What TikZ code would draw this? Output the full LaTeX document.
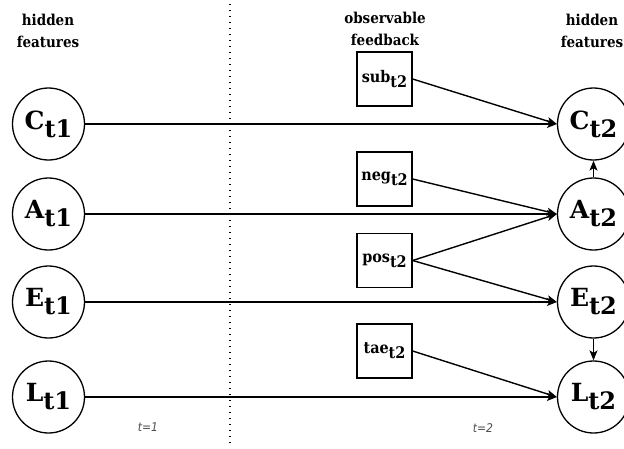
\documentclass[tikz,border=0pt]{standalone}
\usepackage{fontspec}
\setmainfont{DejaVu Serif}
\setsansfont{DejaVu Sans}
\newfontfamily\condserif{DejaVu Serif Condensed}
\newfontfamily\condsans{DejaVu Sans Condensed}
\usetikzlibrary{arrows.meta}
\newcommand\cirlab[2]{{\bfseries\fontsize{25}{25}\selectfont #1\raisebox{-8pt}{\fontsize{24}{24}\selectfont #2}}}
\newcommand\boxlab[2]{{\condserif\bfseries\fontsize{16}{16}\selectfont #1\raisebox{-5pt}{\fontsize{16}{16}\selectfont #2}}}
\begin{document}
\begin{tikzpicture}[x=1pt,y=-1pt,
  feat/.style={circle,draw,line width=1.3pt,minimum size=72pt,inner sep=0pt},
  obs/.style={rectangle,draw,line width=1.3pt,minimum width=55pt,minimum height=54pt,inner sep=0pt},
  arr/.style={line width=1.4pt,-{Stealth[length=10pt,width=8pt,inset=2.5pt]}},
  hdr/.style={font=\condserif\bfseries\fontsize{15}{22}\selectfont,align=center},
  tlab/.style={font=\condsans\itshape\fontsize{12}{14}\selectfont,text=black!70},
  dotline/.style={line width=1.4pt,dash pattern=on 1.4pt off 4.6pt}]
\useasboundingbox (0,0) rectangle (624,448);
% headers
\node[hdr] (h1) at (48,31) {hidden\\features};
\node[hdr] (h2) at (385,29) {observable\\feedback};
\node[hdr] (h3) at (592,31) {hidden\\features};
% divider
\coordinate (d1) at (230,4);
\coordinate (d2) at (230,446);
\draw[dotline] (d1) -- (d2);
% time t1
\node[feat] (C1) at (48.5,124) {\cirlab{C}{t1}};
\node[feat] (A1) at (48.5,214) {\cirlab{A}{t1}};
\node[feat] (E1) at (48.5,302) {\cirlab{E}{t1}};
\node[feat] (L1) at (48.5,397) {\cirlab{L}{t1}};
% time t2
\node[feat] (C2) at (593.5,124) {\cirlab{C}{t2}};
\node[feat] (A2) at (593.5,214) {\cirlab{A}{t2}};
\node[feat] (E2) at (593.5,302) {\cirlab{E}{t2}};
\node[feat] (L2) at (593.5,397) {\cirlab{L}{t2}};
% observable
\node[obs] (sub) at (384.5,79) {\boxlab{sub}{t2}};
\node[obs] (neg) at (384.5,179) {\boxlab{neg}{t2}};
\node[obs] (pos) at (384.5,260.5) {\boxlab{pos}{t2}};
\node[obs] (tae) at (384.5,351) {\boxlab{tae}{t2}};
% labels
\node[tlab] (t1) at (148,427) {t=1};
\node[tlab] (t2) at (483,428) {t=2};
% arrows
\draw[arr] (C1) -- (C2);
\draw[arr] (A1) -- (A2);
\draw[arr] (E1) -- (E2);
\draw[arr] (L1) -- (L2);
\draw[arr] (sub.east) -- (C2.west);
\draw[arr] (neg.east) -- (A2.west);
\draw[arr] (pos.east) -- (A2.west);
\draw[arr] (pos.east) -- (E2.west);
\draw[arr] (tae.east) -- (L2.west);
\draw[arr] (A2.north) -- (C2.south);
\draw[arr] (E2.south) -- (L2.north);
\end{tikzpicture}
\end{document}
